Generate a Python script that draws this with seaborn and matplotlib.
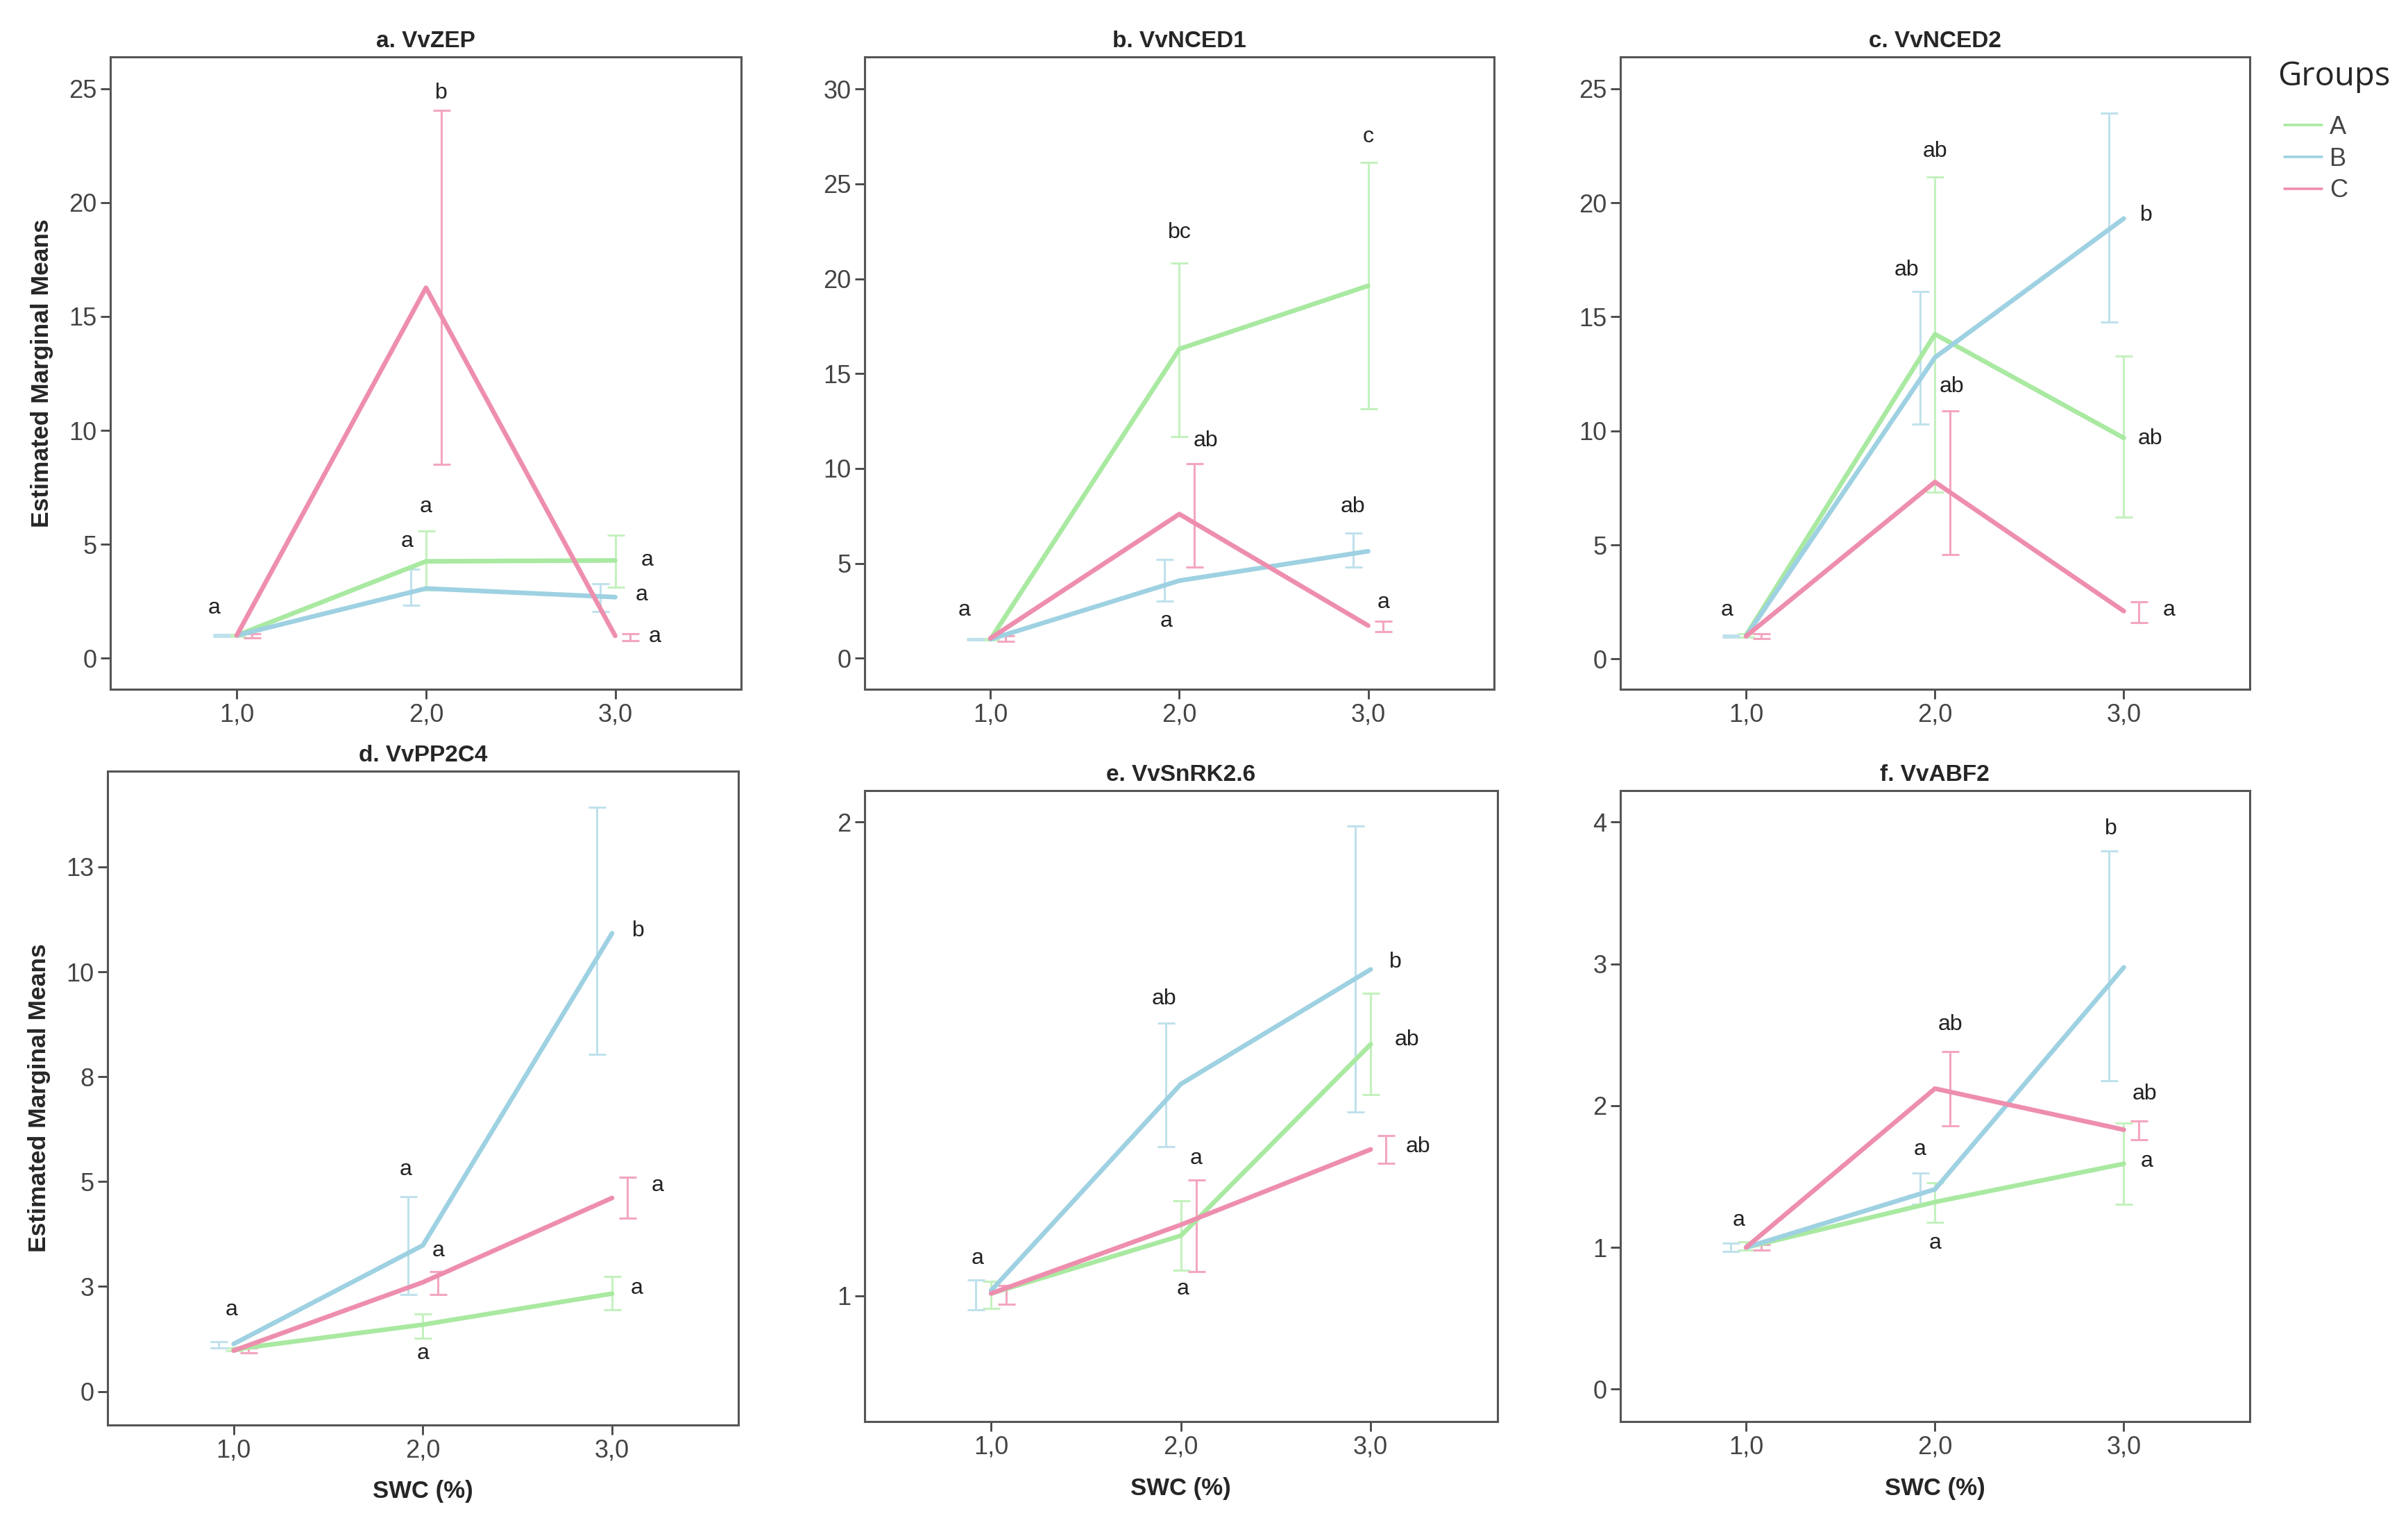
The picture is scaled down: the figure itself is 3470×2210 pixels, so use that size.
import numpy as np
import pandas as pd
import seaborn as sns
import matplotlib.pyplot as plt
from matplotlib.lines import Line2D

# SWC levels and groups
swc = [1.0, 2.0, 3.0]
groups = ['A', 'B', 'C']

# estimated marginal means, rows = groups A, B, C ; columns = SWC 1, 2, 3
zep_mean = [[1.0, 4.25, 4.29], [1.0, 3.06, 2.68], [1.0, 16.26, 0.98]]
zep_lo = [[0.95, 3.0, 3.12], [0.96, 2.31, 2.06], [0.9, 8.5, 0.78]]
zep_hi = [[1.05, 5.58, 5.41], [1.04, 3.9, 3.27], [1.08, 24.04, 1.08]]

nced1_mean = [[1.0, 16.3, 19.63], [1.0, 4.09, 5.64], [1.05, 7.6, 1.72]]
nced1_lo = [[0.95, 11.67, 13.14], [0.95, 3.01, 4.8], [0.9, 4.8, 1.42]]
nced1_hi = [[1.05, 20.83, 26.13], [1.05, 5.22, 6.59], [1.2, 10.25, 1.96]]

nced2_mean = [[1.04, 14.24, 9.69], [1.0, 13.22, 19.31], [1.0, 7.76, 2.1]]
nced2_lo = [[0.95, 7.31, 6.22], [0.95, 10.31, 14.76], [0.9, 4.59, 1.59]]
nced2_hi = [[1.1, 21.14, 13.29], [1.05, 16.12, 23.94], [1.1, 10.88, 2.51]]

pp2c4_mean = [[1.0, 1.59, 2.33], [1.13, 3.48, 10.92], [0.97, 2.6, 4.61]]
pp2c4_lo = [[0.97, 1.27, 1.95], [1.04, 2.31, 8.03], [0.92, 2.31, 4.12]]
pp2c4_hi = [[1.03, 1.85, 2.74], [1.18, 4.64, 13.92], [1.03, 2.86, 5.1]]

snrk_mean = [[1.005, 1.127, 1.531], [1.011, 1.447, 1.689], [1.005, 1.15, 1.309]]
snrk_lo = [[0.973, 1.054, 1.425], [0.97, 1.315, 1.388], [0.982, 1.051, 1.28]]
snrk_hi = [[1.03, 1.2, 1.638], [1.033, 1.575, 1.992], [1.022, 1.244, 1.338]]

abf2_mean = [[1.0, 1.32, 1.59], [1.0, 1.41, 2.975], [1.0, 2.12, 1.83]]
abf2_lo = [[0.98, 1.176, 1.302], [0.97, 1.302, 2.173], [0.98, 1.856, 1.759]]
abf2_hi = [[1.04, 1.457, 1.878], [1.03, 1.525, 3.795], [1.02, 2.38, 1.892]]

# significance letters (x, y, text)
zep_letters = [(0.88, 2.2, 'a'), (2.0, 6.64, 'a'), (1.9, 5.13, 'a'), (2.08, 24.8, 'b'),
               (3.17, 4.29, 'a'), (3.14, 2.78, 'a'), (3.21, 0.94, 'a')]
nced1_letters = [(0.86, 2.52, 'a'), (2.0, 22.45, 'bc'), (2.14, 11.47, 'ab'), (1.93, 1.96, 'a'),
                 (3.0, 27.5, 'c'), (2.92, 7.99, 'ab'), (3.08, 2.94, 'a')]
nced2_letters = [(0.9, 2.14, 'a'), (2.0, 22.27, 'ab'), (1.85, 17.04, 'ab'), (2.09, 11.94, 'ab'),
                 (3.12, 19.45, 'b'), (3.14, 9.65, 'ab'), (3.24, 2.14, 'a')]
pp2c4_letters = [(0.99, 1.95, 'a'), (1.91, 5.29, 'a'), (2.08, 3.35, 'a'), (2.0, 0.91, 'a'),
                 (3.14, 10.98, 'b'), (3.24, 4.9, 'a'), (3.13, 2.45, 'a')]
snrk_letters = [(0.93, 1.079, 'a'), (1.91, 1.627, 'ab'), (2.08, 1.29, 'a'), (2.01, 1.014, 'a'),
                (3.13, 1.705, 'b'), (3.19, 1.54, 'ab'), (3.25, 1.315, 'ab')]
abf2_letters = [(0.96, 1.19, 'a'), (2.08, 2.57, 'ab'), (1.92, 1.69, 'a'), (2.0, 1.03, 'a'),
                (2.93, 3.95, 'b'), (3.11, 2.08, 'ab'), (3.12, 1.61, 'a')]

titles = ['a. VvZEP', 'b. VvNCED1', 'c. VvNCED2', 'd. VvPP2C4', 'e. VvSnRK2.6', 'f. VvABF2']

line_col = {'A': '#a9e9a1', 'B': '#9ed1e2', 'C': '#ee8eae'}
err_col = {'A': '#c4f1be', 'B': '#bfe1ec', 'C': '#f3a6be'}
dodge = {'A': 0.0, 'B': -0.08, 'C': 0.08}

panels = [
    (zep_mean, zep_lo, zep_hi, zep_letters, (-1.37, 26.4), [0, 5, 10, 15, 20, 25], None),
    (nced1_mean, nced1_lo, nced1_hi, nced1_letters, (-1.64, 31.7), [0, 5, 10, 15, 20, 25, 30], None),
    (nced2_mean, nced2_lo, nced2_hi, nced2_letters, (-1.33, 26.4), [0, 5, 10, 15, 20, 25], None),
    (pp2c4_mean, pp2c4_lo, pp2c4_hi, pp2c4_letters, (-0.8, 14.79), [0, 2.5, 5, 7.5, 10, 12.5],
     ['0', '3', '5', '8', '10', '13']),
    (snrk_mean, snrk_lo, snrk_hi, snrk_letters, (0.734, 2.066), [1, 2], None),
    (abf2_mean, abf2_lo, abf2_hi, abf2_letters, (-0.23, 4.22), [0, 1, 2, 3, 4], None),
]

sns.set_style('white')
plt.rcParams['font.family'] = ['Liberation Sans', 'DejaVu Sans']

fig = plt.figure(figsize=(34.7, 22.1), dpi=100)

# axes boxes [left, bottom, width, height] in figure fractions
boxes = [
    [0.0459, 0.5506, 0.262, 0.4124],
    [0.3590, 0.5506, 0.2615, 0.4124],
    [0.6728, 0.5506, 0.2615, 0.4124],
    [0.0446, 0.0711, 0.262, 0.4264],
    [0.3590, 0.0731, 0.2628, 0.4114],
    [0.6728, 0.0731, 0.2615, 0.4114],
]

for i, (mean, lo, hi, letters, ylim, yticks, ylabels) in enumerate(panels):
    ax = fig.add_axes(boxes[i])
    rows = []
    for g, m in zip(groups, mean):
        for s, v in zip(swc, m):
            rows.append({'swc': s, 'mean': v, 'group': g})
    df = pd.DataFrame(rows)

    # error bars, shifted a little per group like SPSS does
    for gi, g in enumerate(groups):
        m = np.array(mean[gi])
        yerr = np.vstack([m - np.array(lo[gi]), np.array(hi[gi]) - m])
        ax.errorbar(np.array(swc) + dodge[g], m, yerr=yerr, fmt='none',
                    ecolor=err_col[g], elinewidth=2.2, capsize=9, capthick=2.2, zorder=1)

    sns.lineplot(data=df, x='swc', y='mean', hue='group', hue_order=groups,
                 palette=line_col, linewidth=4.8, errorbar=None, legend=False,
                 ax=ax, zorder=3)

    for x, y, t in letters:
        ax.text(x, y, t, ha='center', va='center', fontsize=23, color='#222222')

    ax.set_xlim(0.333, 3.667)
    ax.set_ylim(*ylim)
    ax.set_xticks(swc)
    ax.set_xticklabels(['1,0', '2,0', '3,0'])
    ax.set_yticks(yticks)
    if ylabels is not None:
        ax.set_yticklabels(ylabels)
    else:
        ax.set_yticklabels([str(int(v)) for v in yticks])
    ax.tick_params(axis='both', direction='out', length=10, width=2, color='#444444',
                   labelsize=26, labelcolor='#444444', pad=4, left=True, bottom=True)
    for sp in ax.spines.values():
        sp.set_color('#555555')
        sp.set_linewidth(2.2)
    ax.set_title(titles[i], fontsize=24, fontweight='bold', pad=10)
    if i in (0, 3):
        ax.set_ylabel('Estimated Marginal Means', fontsize=25.5, fontweight='bold', labelpad=16)
    else:
        ax.set_ylabel('')
    if i >= 3:
        ax.set_xlabel('SWC (%)', fontsize=25, fontweight='bold', labelpad=18)
    else:
        ax.set_xlabel('')

# legend on the right of panel c
fig.text(0.9458, 0.95, 'Groups', fontsize=34, va='center', ha='left',
         family=['Open Sans', 'DejaVu Sans'])
handles = [Line2D([0], [0], color=line_col[g], lw=2.6) for g in groups]
leg = fig.legend(handles, groups, loc='upper left', bbox_to_anchor=(0.9487, 0.925),
                 frameon=False, fontsize=26, handlelength=1.5, handletextpad=0.3,
                 labelspacing=0.3, borderpad=0, borderaxespad=0)
for t in leg.get_texts():
    t.set_color('#444444')

fig.savefig('out.png', dpi=100)
